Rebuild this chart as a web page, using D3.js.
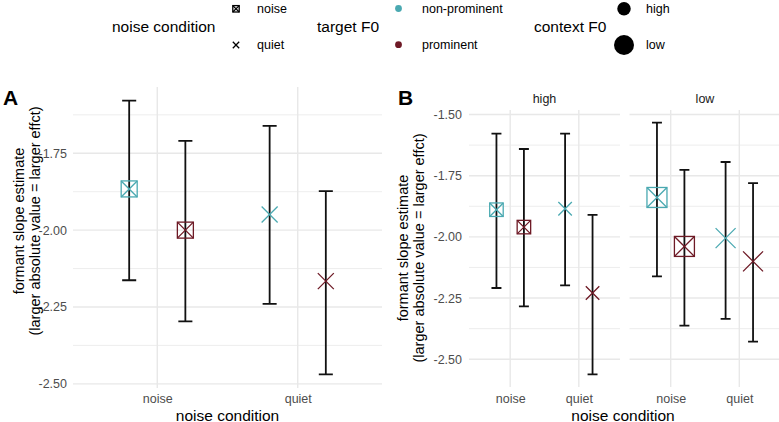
<!DOCTYPE html>
<html>
<head>
<meta charset="utf-8">
<script src="https://cdn.jsdelivr.net/npm/d3@7"></script>
<style>
  body { margin: 0; background: #fff; }
  svg { display: block; font-family: "Liberation Sans", Arial, sans-serif; }
</style>
</head>
<body>
<div id="chart"></div>
<script>
const noiseConds = ['noise', 'quiet'];
const targetLevels = ['non-prominent', 'prominent'];
const contextLevels = ['high', 'low'];
const yTicksA = [-1.75, -2.0, -2.25, -2.5];
const yTicksB = [-1.5, -1.75, -2.0, -2.25, -2.5];

// panel A: pooled over context F0
const aNoise = ['noise', 'noise', 'quiet', 'quiet'];
const aTarget = ['non-prominent', 'prominent', 'non-prominent', 'prominent'];
const aEst = [-1.866, -2.000, -1.949, -2.166];
const aLower = [-2.163, -2.297, -2.240, -2.469];
const aUpper = [-1.579, -1.710, -1.661, -1.873];

// panel B: split by context F0
const bContext = ['high', 'high', 'high', 'high', 'low', 'low', 'low', 'low'];
const bNoise = ['noise', 'noise', 'quiet', 'quiet', 'noise', 'noise', 'quiet', 'quiet'];
const bTarget = ['non-prominent', 'prominent', 'non-prominent', 'prominent',
    'non-prominent', 'prominent', 'non-prominent', 'prominent'];
const bEst = [-1.889, -1.960, -1.885, -2.229, -1.839, -2.039, -2.005, -2.100];
const bLower = [-2.209, -2.284, -2.198, -2.562, -2.161, -2.363, -2.335, -2.428];
const bUpper = [-1.578, -1.641, -1.578, -1.910, -1.533, -1.726, -1.694, -1.780];

const width = 779;
const height = 422;
const gridColor = '#e8e8e8';
const textColor = '#4d4d4d';

const color = d3.scaleOrdinal().domain(targetLevels).range(['#4aa9b1', '#6e1a26']);
const sizeB = d3.scaleOrdinal().domain(contextLevels).range([13.5, 20]);

const rowsA = aEst.map((v, i) => ({
    noise: aNoise[i], target: aTarget[i], est: v, lo: aLower[i], hi: aUpper[i],
}));
const rowsB = bEst.map((v, i) => ({
    context: bContext[i], noise: bNoise[i], target: bTarget[i], est: v, lo: bLower[i], hi: bUpper[i],
}));

const svg = d3.select('#chart')
.append('svg')
.attr('width', width)
.attr('height', height);

// ggplot-like continuous expansion (5% each side)
function expandedDomain(rows) {
    const lo = d3.min(rows, d => d.lo);
    const hi = d3.max(rows, d => d.hi);
    const pad = (hi - lo) * 0.05;
    return [lo - pad, hi + pad];
}

function marker(g, shape, cx, cy, s, stroke) {
    const h = s / 2;
    if (shape === 'noise') {
        g.append('rect')
        .attr('x', cx - h).attr('y', cy - h)
        .attr('width', s).attr('height', s)
        .attr('fill', 'none').attr('stroke', stroke).attr('stroke-width', 1.3);
    }
    g.append('path')
    .attr('d', `M${cx - h},${cy - h}L${cx + h},${cy + h}M${cx - h},${cy + h}L${cx + h},${cy - h}`)
    .attr('fill', 'none').attr('stroke', stroke).attr('stroke-width', 1.3);
}

function renderGrid(g, x, y, ticks) {
    const [x0, x1] = x.range();
    const [y0, y1] = y.range();
    const minor = d3.pairs(ticks).map(([a, b]) => (a + b) / 2);
    const [dLo, dHi] = y.domain();
    const step = ticks[0] - ticks[1];
    [ticks[0] + step / 2, ticks[ticks.length - 1] - step / 2].forEach((m) => {
        if (m > dLo && m < dHi) minor.push(m);
    });
    g.selectAll(null).data(minor).enter().append('line')
    .attr('x1', x0).attr('x2', x1)
    .attr('y1', d => y(d)).attr('y2', d => y(d))
    .attr('stroke', gridColor).attr('stroke-width', 0.8);
    g.selectAll(null).data(ticks).enter().append('line')
    .attr('x1', x0).attr('x2', x1)
    .attr('y1', d => y(d)).attr('y2', d => y(d))
    .attr('stroke', gridColor).attr('stroke-width', 1.4);
    g.selectAll(null).data(x.domain()).enter().append('line')
    .attr('x1', d => x(d)).attr('x2', d => x(d))
    .attr('y1', y0).attr('y2', y1)
    .attr('stroke', gridColor).attr('stroke-width', 1.4);
}

function renderXaxis(g, x, yPos) {
    g.append('g')
    .attr('transform', `translate(0, ${yPos})`)
    .call(d3.axisBottom(x).tickSize(0).tickPadding(0))
    .call(a => a.select('.domain').remove())
    .selectAll('text')
    .attr('dy', 0)
    .style('font-size', '12.5px')
    .attr('fill', textColor);
}

function renderYaxis(g, y, ticks, xPos) {
    g.append('g')
    .attr('transform', `translate(${xPos}, 0)`)
    .call(d3.axisLeft(y).tickValues(ticks).tickSize(0).tickPadding(0))
    .call(a => a.select('.domain').remove())
    .selectAll('text')
    .text(d => d3.format('.2f')(d).replace('−', '-'))
    .style('font-size', '12.5px')
    .attr('fill', textColor);
}

function renderPoints(g, rows, x, y, sizeOf, capFrac) {
    const step = x.step();
    const dodge = d => x(d.noise) + (d.target === targetLevels[0] ? -0.2 : 0.2) * step;
    const cap = capFrac * step / 2;
    rows.forEach((d) => {
        const cx = dodge(d);
        g.append('path')
        .attr('d', `M${cx - cap},${y(d.hi)}H${cx + cap}M${cx},${y(d.hi)}V${y(d.lo)}M${cx - cap},${y(d.lo)}H${cx + cap}`)
        .attr('fill', 'none').attr('stroke', '#111').attr('stroke-width', 1.8);
    });
    rows.forEach((d) => {
        marker(g, d.noise, dodge(d), y(d.est), sizeOf(d), color(d.target));
    });
}

function yTitle(cx, cy) {
    const t = svg.append('text')
    .attr('transform', `translate(${cx}, ${cy}) rotate(-90)`)
    .attr('text-anchor', 'middle')
    .style('font-size', '14.5px')
    .attr('fill', '#000');
    t.append('tspan').attr('x', 0).attr('dy', 0).text('formant slope estimate');
    t.append('tspan').attr('x', 0).attr('dy', 15.5).text('(larger absolute value = larger effct)');
}

function xTitle(cx) {
    svg.append('text')
    .attr('x', cx).attr('y', 420.5)
    .attr('text-anchor', 'middle')
    .style('font-size', '15.5px')
    .attr('fill', '#000')
    .text('noise condition');
}

function tag(label, x0) {
    svg.append('text')
    .attr('x', x0).attr('y', 105)
    .style('font-size', '21px').style('font-weight', 'bold')
    .attr('fill', '#000')
    .text(label);
}

// ---- panel A
function renderA() {
    const g = svg.append('g');
    const x = d3.scalePoint().domain(noiseConds).range([73, 382]).padding(0.6);
    const y = d3.scaleLinear().domain(expandedDomain(rowsA)).range([388, 87]);
    renderGrid(g, x, y, yTicksA);
    renderXaxis(g, x, 403);
    renderYaxis(g, y, yTicksA, 67);
    renderPoints(g, rowsA, x, y, () => 16, 0.1);
    tag('A', 3);
    yTitle(24, 221);
    xTitle(d3.mean(x.range()));
}

// ---- panel B
function renderB() {
    const y = d3.scaleLinear().domain(expandedDomain(rowsB)).range([387, 110]);
    const facets = d3.scaleBand().domain(contextLevels).range([469, 786]).paddingInner(0.025);
    contextLevels.forEach((c, i) => {
        const g = svg.append('g');
        const left = facets(c);
        const x = d3.scalePoint().domain(noiseConds).range([left, left + 151]).padding(0.6);
        renderGrid(g, x, y, yTicksB);
        renderXaxis(g, x, 403);
        if (i === 0) renderYaxis(g, y, yTicksB, 462);
        renderPoints(g, rowsB.filter(d => d.context === c), x, y, d => sizeB(d.context), 0.145);
        g.append('text')
        .attr('x', d3.mean(x.range())).attr('y', 103)
        .attr('text-anchor', 'middle')
        .style('font-size', '12.5px')
        .attr('fill', '#1a1a1a')
        .text(c);
    });
    tag('B', 398);
    yTitle(408, 248);
    xTitle(623);
}

// ---- legend
function renderLegend() {
    const lg = svg.append('g');
    const titleY = 32;
    const rowY = [8.8, 45];
    const title = (txt, x0) => lg.append('text')
    .attr('x', x0).attr('y', titleY)
    .style('font-size', '15.5px').attr('fill', '#000').text(txt);
    const label = (txt, x0, yy) => lg.append('text')
    .attr('x', x0).attr('y', yy + 4.4)
    .style('font-size', '12.5px').attr('fill', '#000').text(txt);

    title('noise condition', 112);
    noiseConds.forEach((n, i) => {
        const kg = lg.append('g');
        if (n === 'noise') {
            kg.append('rect').attr('x', 232.8).attr('y', rowY[i] - 3.2)
            .attr('width', 6.4).attr('height', 6.4)
            .attr('fill', 'none').attr('stroke', '#000').attr('stroke-width', 1.3);
        }
        kg.append('path')
        .attr('d', `M${232.8},${rowY[i] - 3.2}l6.4,6.4M${232.8},${rowY[i] + 3.2}l6.4,-6.4`)
        .attr('stroke', '#000').attr('stroke-width', 1.3);
        label(n, 257, rowY[i]);
    });

    title('target F0', 317);
    targetLevels.forEach((t, i) => {
        lg.append('circle').attr('cx', 398.5).attr('cy', rowY[i] - 0.3).attr('r', 3.4).attr('fill', color(t));
        label(t, 422, rowY[i]);
    });

    title('context F0', 534);
    contextLevels.forEach((c, i) => {
        lg.append('circle').attr('cx', 624).attr('cy', rowY[i]).attr('r', sizeB(c) / 2).attr('fill', '#000');
        label(c, 646, rowY[i]);
    });
}

renderA();
renderB();
renderLegend();
</script>
</body>
</html>
